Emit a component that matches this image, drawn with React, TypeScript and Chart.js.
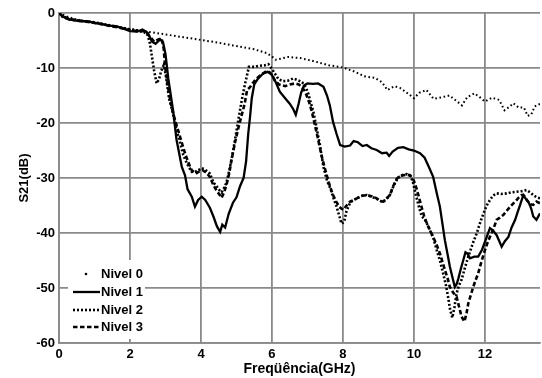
import React, { useEffect, useRef } from "react";
import { Chart, registerables } from "chart.js";

Chart.register(...registerables);

// ---- data (frequency in GHz, S21 in dB) ----
const freq0 = [0, 0.2, 0.5, 1.0, 1.5, 2.0, 2.5, 3.0, 3.5, 4.0, 4.5, 4.9, 5.5, 5.85, 6.0, 6.1, 6.25, 6.45, 6.8, 7.2, 7.6, 8.0, 8.3, 8.6, 8.9, 9.1, 9.25, 9.45, 9.6, 9.8, 10.0, 10.15, 10.35, 10.55, 10.8, 11.0, 11.2, 11.35, 11.5, 11.7, 11.85, 12.0, 12.2, 12.4, 12.55, 12.7, 12.8, 12.95, 13.1, 13.2, 13.3, 13.4, 13.55];
const s21_0 = [0, -0.6, -1.2, -1.8, -2.4, -2.9, -3.4, -3.9, -4.4, -4.9, -5.4, -5.9, -6.6, -7.3, -7.9, -8.5, -8.3, -8.0, -8.2, -8.8, -9.5, -9.9, -10.6, -11.5, -11.8, -12.6, -14.0, -13.3, -13.6, -14.5, -15.5, -14.5, -14.0, -15.6, -15.3, -15.0, -16.0, -16.8, -15.3, -14.6, -15.3, -16.1, -15.4, -15.8, -17.7, -17.0, -16.4, -17.2, -17.2, -18.7, -18.5, -17.0, -16.5];

const freq1 = [0, 0.1, 0.25, 0.4, 0.6, 0.8, 1.0, 1.2, 1.4, 1.6, 1.8, 2.0, 2.2, 2.35, 2.5, 2.62, 2.72, 2.85, 2.93, 3.0, 3.08, 3.15, 3.22, 3.31, 3.4, 3.46, 3.55, 3.62, 3.74, 3.83, 3.92, 4.02, 4.12, 4.25, 4.35, 4.45, 4.54, 4.6, 4.68, 4.78, 4.9, 5.0, 5.1, 5.2, 5.27, 5.33, 5.38, 5.43, 5.5, 5.6, 5.75, 5.88, 5.99, 6.1, 6.22, 6.37, 6.5, 6.6, 6.67, 6.75, 6.82, 6.9, 7.0, 7.15, 7.3, 7.45, 7.55, 7.63, 7.72, 7.82, 7.92, 8.05, 8.2, 8.3, 8.42, 8.55, 8.67, 8.8, 8.95, 9.1, 9.23, 9.3, 9.4, 9.55, 9.7, 9.85, 10.0, 10.17, 10.3, 10.42, 10.54, 10.65, 10.73, 10.87, 10.95, 11.01, 11.1, 11.15, 11.2, 11.25, 11.32, 11.39, 11.45, 11.5, 11.58, 11.7, 11.81, 11.92, 12.05, 12.14, 12.22, 12.33, 12.47, 12.56, 12.66, 12.75, 12.85, 12.92, 12.99, 13.08, 13.15, 13.22, 13.3, 13.36, 13.45, 13.55];
const s21_1 = [0, -0.6, -1.1, -1.3, -1.5, -1.5, -1.8, -2.0, -2.3, -2.4, -2.8, -3.3, -3.4, -3.0, -3.6, -5.2, -5.6, -4.8, -5.3, -7.5, -12, -15, -18, -23, -26, -28, -29.5, -32, -33.4, -35.2, -34, -33.4, -34, -35.4, -37, -38.8, -39.8, -38.5, -39, -36.5, -34.5, -33.5, -31.5, -30, -27, -22, -19, -15.5, -13, -12, -11, -10.7, -11.2, -12.5, -14.3, -15.5, -16.5, -17.5, -18.5, -16.5, -14.5, -13.2, -12.8, -12.9, -12.8, -13.4, -15, -16.8, -19.8, -22, -24, -24.3, -24.1, -23.3, -23.5, -24.2, -24.0, -24.6, -24.9, -25.5, -25.4, -26.0, -25.2, -24.5, -24.4, -24.8, -25.0, -25.5, -26.3, -28, -29.8, -33, -35.2, -41.3, -44, -46.1, -48.5, -49.8, -49.3, -48.3, -46.5, -44.9, -43.5, -43.7, -44.6, -44.3, -44.3, -43, -40.7, -39.1, -39.5, -40.4, -42.5, -41.5, -40.7, -39, -37.6, -36.2, -34.9, -33.1, -33.8, -34.3, -35.5, -37, -37.6, -36.4];

const freq2 = [0, 0.1, 0.3, 0.6, 1.0, 1.4, 1.8, 2.0, 2.2, 2.4, 2.5, 2.56, 2.62, 2.68, 2.75, 2.82, 2.88, 2.95, 3.0, 3.1, 3.2, 3.3, 3.41, 3.5, 3.6, 3.74, 3.88, 4.02, 4.12, 4.25, 4.35, 4.45, 4.52, 4.58, 4.65, 4.72, 4.8, 4.88, 4.96, 5.05, 5.15, 5.22, 5.29, 5.35, 5.5, 5.65, 5.8, 5.9, 6.0, 6.1, 6.18, 6.3, 6.45, 6.6, 6.72, 6.85, 6.95, 7.02, 7.1, 7.16, 7.26, 7.35, 7.45, 7.55, 7.65, 7.73, 7.82, 7.9, 7.96, 8.03, 8.1, 8.2, 8.3, 8.42, 8.55, 8.67, 8.8, 8.95, 9.1, 9.2, 9.32, 9.42, 9.51, 9.6, 9.7, 9.8, 9.89, 9.96, 10.05, 10.15, 10.22, 10.3, 10.38, 10.45, 10.55, 10.64, 10.73, 10.82, 10.9, 10.96, 11.02, 11.08, 11.14, 11.2, 11.27, 11.34, 11.44, 11.53, 11.65, 11.77, 11.87, 11.96, 12.05, 12.14, 12.23, 12.33, 12.47, 12.61, 12.75, 12.89, 13.03, 13.17, 13.27, 13.36, 13.45, 13.55];
const s21_2 = [0, -0.7, -1.2, -1.4, -1.7, -2.2, -2.7, -3.0, -3.2, -3.5, -4.0, -5.5, -8, -10.5, -12.8, -12, -10.5, -9.5, -11, -15.5, -18, -21, -23.5, -25.8, -27.3, -28.9, -28.8, -28.2, -28.5, -29.2, -30.8, -31.6, -32.2, -32.6, -31.8, -30.8, -28.5, -26, -23, -19.5, -15.8, -13.5, -11.5, -9.8, -9.8, -9.6, -9.5, -9.3, -10.2, -11.2, -12.0, -12.4, -12.3, -11.9, -12.2, -12.6, -13.5, -14.6, -16.5, -17.8, -21, -24, -28, -30.5, -32, -33.6, -35.2, -37, -38.3, -38.0, -36, -34.5, -34.0, -33.6, -33.2, -33.1, -33.4, -33.8, -34.3, -34.0, -33.1, -31.5, -30.4, -29.7, -29.4, -29.3, -29.6, -30.5, -33, -35.5, -37, -37.5, -38.5, -39.5, -41, -43.1, -45, -47.3, -49.5, -51.6, -54, -55.4, -53.5, -51, -49.5, -48.5, -46.2, -44.3, -42, -40, -38, -36.4, -35, -34, -33.2, -32.8, -32.9, -32.8, -32.6, -32.5, -32.4, -32.2, -32.6, -33.1, -33.5, -33.7];

const freq3 = [0, 0.1, 0.3, 0.6, 1.0, 1.4, 1.8, 2.0, 2.2, 2.4, 2.55, 2.68, 2.8, 2.89, 2.95, 2.99, 3.06, 3.13, 3.2, 3.27, 3.34, 3.41, 3.48, 3.55, 3.65, 3.74, 3.85, 3.95, 4.05, 4.15, 4.25, 4.35, 4.45, 4.52, 4.58, 4.65, 4.72, 4.8, 4.86, 4.96, 5.05, 5.15, 5.23, 5.3, 5.38, 5.45, 5.55, 5.7, 5.82, 5.9, 6.0, 6.08, 6.2, 6.37, 6.5, 6.65, 6.75, 6.84, 6.92, 6.97, 7.05, 7.12, 7.21, 7.3, 7.4, 7.5, 7.6, 7.7, 7.8, 7.9, 8.01, 8.1, 8.2, 8.3, 8.39, 8.5, 8.67, 8.8, 8.95, 9.05, 9.14, 9.22, 9.32, 9.42, 9.51, 9.6, 9.7, 9.8, 9.89, 9.96, 10.03, 10.12, 10.21, 10.28, 10.36, 10.45, 10.54, 10.64, 10.73, 10.8, 10.87, 10.95, 11.01, 11.1, 11.2, 11.27, 11.34, 11.42, 11.48, 11.53, 11.6, 11.67, 11.74, 11.81, 11.9, 12.0, 12.07, 12.14, 12.24, 12.33, 12.42, 12.52, 12.62, 12.71, 12.8, 12.89, 12.96, 13.03, 13.1, 13.2, 13.28, 13.36, 13.45, 13.55];
const s21_3 = [0, -0.6, -1.1, -1.4, -1.8, -2.3, -2.8, -3.1, -3.3, -3.3, -4.2, -5.2, -4.8, -4.6, -6.5, -9.8, -13, -15.8, -17.8, -19.5, -21, -22.5, -24, -25.5, -27.3, -28.6, -29.2, -28.8, -28.6, -29, -29.8, -31.3, -32.4, -33, -33.6, -32.6, -31.2, -29, -26.7, -23.5, -21, -18.5, -16.5, -14, -13.5, -12.8, -12.0, -11.2, -10.7, -10.6, -11.2, -12.3, -13.0, -13.3, -13.0, -12.8, -13.0, -13.4, -14.2, -14.9, -16.3, -17.9, -20.4, -23, -26, -28.5, -30.8, -32.8, -34.2, -35.3, -35.8, -35, -34.3, -34, -33.7, -33.3, -33.1, -33.3, -33.7, -34.2, -34.3, -33.8, -33.1, -31.4, -30.2, -29.6, -29.5, -29.4, -29.5, -30, -31, -33, -35.2, -36.8, -38.2, -39.5, -40.7, -42.2, -43.7, -45.2, -46.7, -48.3, -49.8, -50.8, -51.6, -53.4, -55.2, -56.1, -54.6, -52.8, -51.3, -49.8, -48.5, -47.3, -45.2, -43.1, -41.8, -40.7, -39.2, -37.6, -37.2, -36.7, -35.9, -35.2, -34.6, -34.0, -33.5, -33.1, -33.2, -34.2, -34.8, -34.9, -34.3, -34.6];

const seriesNames = ["Nivel 0", "Nivel 1", "Nivel 2", "Nivel 3"];
const xTicks = [0, 2, 4, 6, 8, 10, 12];
const yTicks = [0, -10, -20, -30, -40, -50, -60];
const xTitle = "Freqüência(GHz)";
const yTitle = "S21(dB)";

const FONT = "Arial, 'Liberation Sans', sans-serif";
const GRID = "#8a8a8a";

const styles = [
  { width: 2, dash: [1.6, 2.6] },
  { width: 2.3, dash: [] as number[] },
  { width: 2.6, dash: [2, 2] },
  { width: 2.6, dash: [4.5, 2.5] },
];

const toPts = (xs: number[], ys: number[]) => xs.map((x, i) => ({ x, y: ys[i] }));

const legendPlugin = {
  id: "innerLegend",
  afterDraw(chart: any) {
    const { ctx, chartArea } = chart;
    const L = chartArea.left;
    const B = chartArea.bottom;
    ctx.save();
    ctx.fillStyle = "#ffffff";
    ctx.fillRect(L + 9, B - 83, 77, 79);
    const rows = [B - 69, B - 51, B - 33, B - 16];
    ctx.font = `bold 13px ${FONT}`;
    ctx.textBaseline = "middle";
    ctx.textAlign = "left";
    rows.forEach((y, i) => {
      ctx.strokeStyle = "#000";
      ctx.fillStyle = "#000";
      if (i === 0) {
        ctx.beginPath();
        ctx.arc(L + 27, y, 1.3, 0, Math.PI * 2);
        ctx.fill();
      } else {
        ctx.lineWidth = styles[i].width;
        ctx.setLineDash(styles[i].dash);
        ctx.beginPath();
        ctx.moveTo(L + 14, y);
        ctx.lineTo(L + 41, y);
        ctx.stroke();
        ctx.setLineDash([]);
      }
      ctx.fillText(seriesNames[i], L + 42, y + 0.5);
    });
    ctx.restore();
  },
};

export default function App() {
  const ref = useRef<HTMLCanvasElement | null>(null);
  useEffect(() => {
    if (!ref.current) return;
    const all = [toPts(freq0, s21_0), toPts(freq1, s21_1), toPts(freq2, s21_2), toPts(freq3, s21_3)];
    const chart = new Chart(ref.current, {
      type: "line",
      data: {
        datasets: all.map((d, i) => ({
          label: seriesNames[i],
          data: d,
          borderColor: "#000",
          backgroundColor: "#000",
          borderWidth: styles[i].width,
          borderDash: styles[i].dash,
          pointRadius: 0,
          tension: 0,
          fill: false,
        })),
      },
      options: {
        responsive: false,
        animation: false,
        devicePixelRatio: 1,
        layout: { padding: { top: 13, right: 2, left: 0, bottom: 0 } },
        plugins: { legend: { display: false }, tooltip: { enabled: false } },
        scales: {
          x: {
            type: "linear",
            min: 0,
            max: 13.55,
            afterFit: (s: any) => { s.height = 35; },
            afterBuildTicks: (s: any) => { s.ticks = xTicks.map((v) => ({ value: v })); },
            ticks: { font: { family: FONT, size: 13, weight: "bold" }, color: "#000", padding: 4, maxRotation: 0 },
            grid: { color: GRID, lineWidth: 1.8, drawTicks: false },
            border: { color: GRID, width: 1.8 },
            title: { display: true, text: xTitle, color: "#000", font: { family: FONT, size: 14, weight: "bold" }, padding: { top: 0, bottom: 0 } },
          },
          y: {
            type: "linear",
            min: -60,
            max: 0,
            afterFit: (s: any) => { s.width = 59; },
            afterBuildTicks: (s: any) => { s.ticks = yTicks.map((v) => ({ value: v })); },
            ticks: { font: { family: FONT, size: 13, weight: "bold" }, color: "#000", padding: 4 },
            grid: { color: GRID, lineWidth: 1.8, drawTicks: false },
            border: { color: GRID, width: 1.8 },
            title: { display: true, text: yTitle, color: "#000", font: { family: FONT, size: 13, weight: "bold" }, padding: { top: 17, bottom: 0 } },
          },
        },
      },
      plugins: [legendPlugin],
    });
    return () => chart.destroy();
  }, []);
  return (
    <div style={{ position: "absolute", left: 0, top: 0, width: 542, height: 378, background: "#fff" }}>
      <canvas ref={ref} width={542} height={378} style={{ display: "block" }} />
    </div>
  );
}
